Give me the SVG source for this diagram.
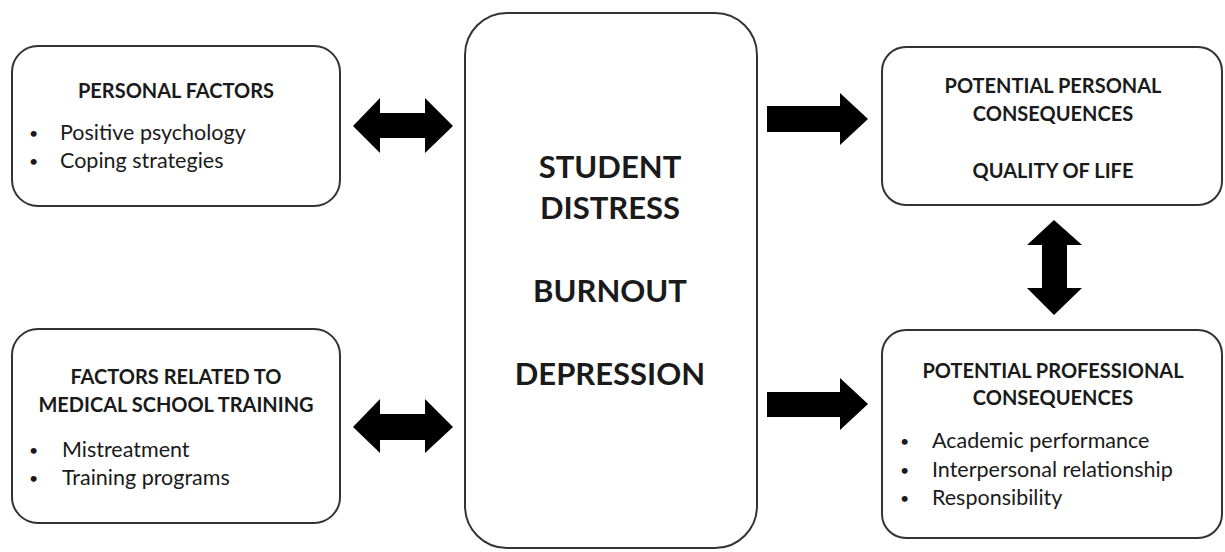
<svg xmlns="http://www.w3.org/2000/svg" width="1225" height="552" viewBox="0 0 1225 552">
<style>
.box{fill:#fff;stroke:#333;stroke-width:2}
.t{font-family:Lato,"Open Sans",sans-serif;fill:#1a1a1a}
.h{font-weight:bold;font-size:20px;text-anchor:middle}
.b{font-size:21.5px}
.d{font-size:16px}
.big{font-weight:bold;font-size:31px;text-anchor:middle}
.arr{fill:#000}
</style>
<rect width="1225" height="552" fill="#fff"/>
<g id="personal">
<rect class="box" x="12" y="46" width="328" height="160" rx="26"/>
<text class="t h" x="176" y="98">PERSONAL FACTORS</text>
<text class="t d" x="29" y="139">•</text><text class="t b" x="60" y="140">Positive psychology</text>
<text class="t d" x="29" y="167">•</text><text class="t b" x="60" y="168">Coping strategies</text>
</g>
<g id="training">
<rect class="box" x="12" y="329" width="328" height="194" rx="26"/>
<text class="t h" x="176" y="384">FACTORS RELATED TO</text>
<text class="t h" x="176" y="412">MEDICAL SCHOOL TRAINING</text>
<text class="t d" x="29" y="456">•</text><text class="t b" x="62" y="457">Mistreatment</text>
<text class="t d" x="29" y="484">•</text><text class="t b" x="62" y="485">Training programs</text>
</g>
<g id="distress">
<rect class="box" x="465" y="13" width="292" height="535" rx="42"/>
<text class="t big" x="610" y="178">STUDENT</text>
<text class="t big" x="610" y="219">DISTRESS</text>
<text class="t big" x="610" y="302">BURNOUT</text>
<text class="t big" x="610" y="385">DEPRESSION</text>
</g>
<g id="personal-consequences">
<rect class="box" x="882" y="47" width="340" height="158" rx="24"/>
<text class="t h" x="1053" y="93">POTENTIAL PERSONAL</text>
<text class="t h" x="1053" y="121">CONSEQUENCES</text>
<text class="t h" x="1053" y="178">QUALITY OF LIFE</text>
</g>
<g id="professional-consequences">
<rect class="box" x="882" y="330" width="340" height="208" rx="24"/>
<text class="t h" x="1053" y="378">POTENTIAL PROFESSIONAL</text>
<text class="t h" x="1053" y="405">CONSEQUENCES</text>
<text class="t d" x="900" y="447">•</text><text class="t b" x="932" y="448">Academic performance</text>
<text class="t d" x="900" y="476">•</text><text class="t b" x="932" y="477">Interpersonal relationship</text>
<text class="t d" x="900" y="504">•</text><text class="t b" x="932" y="505">Responsibility</text>
</g>
<g id="connectors">
<polygon class="arr" points="353,126 380,98 380,113 425,113 425,98 453,126 425,153 425,138 380,138 380,153"/>
<polygon class="arr" points="353,427 380,399 380,414 425,414 425,399 453,427 425,453 425,440 380,440 380,453"/>
<polygon class="arr" points="767,106 840,106 840,93 868,119 840,145 840,132 767,132"/>
<polygon class="arr" points="767,392 840,392 840,378 868,404 840,430 840,417 767,417"/>
<polygon class="arr" points="1054,220 1082,245 1067,245 1067,288 1082,288 1054,315 1027,288 1042,288 1042,245 1027,245"/>
</g>
</svg>
